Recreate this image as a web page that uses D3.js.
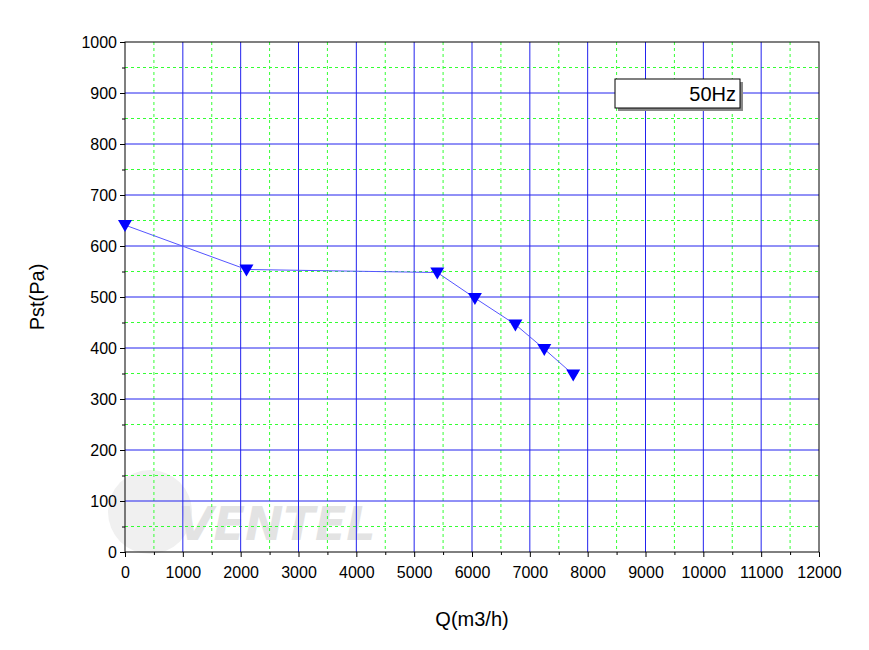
<!DOCTYPE html>
<html><head><meta charset="utf-8">
<script src="https://cdn.jsdelivr.net/npm/d3@7"></script>
<style>body{margin:0;background:#fff}</style></head>
<body><svg id="c" width="869" height="650"></svg>
<script>
const qValues=[0,2100,5400,6050,6750,7250,7750];
const pValues=[641,554,548,498,446,398,348];
const xTicks=d3.range(0,12001,1000);
const yTicks=d3.range(0,1001,100);
const legendLabel="50Hz";
const svg=d3.select("#c");
const L=125,R=819,T=42,B=552;
const x=d3.scaleLinear().domain([0,12000]).range([L,R]);
const y=d3.scaleLinear().domain([0,1000]).range([B,T]);
svg.append("circle").attr("cx",150).attr("cy",512).attr("r",42).attr("fill","#f0f0f0");
svg.append("text").attr("x",178).attr("y",540).attr("font-family","DejaVu Sans").attr("font-weight","bold").attr("font-style","italic").attr("font-size",46).attr("fill","#e3e3e3").text("VENTEL");
const g=svg.append("g");
const minorX=d3.range(500,12000,1000), minorY=d3.range(50,1000,100);
g.selectAll(".mx").data(minorX).join("line").attr("x1",d=>x(d)).attr("x2",d=>x(d)).attr("y1",T).attr("y2",B).attr("stroke","#33ff33").attr("stroke-dasharray","3,3");
g.selectAll(".my").data(minorY).join("line").attr("y1",d=>y(d)).attr("y2",d=>y(d)).attr("x1",L).attr("x2",R).attr("stroke","#33ff33").attr("stroke-dasharray","3,3");
g.selectAll(".Mx").data(xTicks.slice(1,-1)).join("line").attr("x1",d=>x(d)).attr("x2",d=>x(d)).attr("y1",T).attr("y2",B).attr("stroke","#2222ee");
g.selectAll(".My").data(yTicks.slice(1,-1)).join("line").attr("y1",d=>y(d)).attr("y2",d=>y(d)).attr("x1",L).attr("x2",R).attr("stroke","#2222ee");
svg.append("rect").attr("x",L).attr("y",T).attr("width",R-L).attr("height",B-T).attr("fill","none").attr("stroke","#000");
const ax=svg.append("g").attr("transform",`translate(0,${B})`).call(d3.axisBottom(x).tickValues(xTicks).tickSize(5).tickFormat(d3.format("d")));
ax.selectAll(".domain").remove();
const axm=svg.append("g").attr("transform",`translate(0,${B})`).call(d3.axisBottom(x).tickValues(minorX).tickSize(3).tickFormat(""));axm.select(".domain").remove();
const ay=svg.append("g").attr("transform",`translate(${L},0)`).call(d3.axisLeft(y).tickValues(yTicks).tickSize(5).tickFormat(d3.format("d")));
ay.selectAll(".domain").remove();
const aym=svg.append("g").attr("transform",`translate(${L},0)`).call(d3.axisLeft(y).tickValues(minorY).tickSize(3).tickFormat(""));aym.select(".domain").remove();
svg.selectAll(".tick text").attr("font-family","Liberation Sans, Arial").attr("font-size",16).attr("fill","#000");
ax.selectAll(".tick text").attr("dy","1.1em");
svg.selectAll(".tick line").attr("stroke","#000");
svg.append("text").attr("x",472).attr("y",626).attr("text-anchor","middle").attr("font-family","Liberation Sans, Arial").attr("font-size",20).text("Q(m3/h)");
svg.append("text").attr("transform","translate(44,297) rotate(-90)").attr("text-anchor","middle").attr("font-family","Liberation Sans, Arial").attr("font-size",20).text("Pst(Pa)");
const pts=qValues.map((q,i)=>[q,pValues[i]]);
svg.append("path").datum(pts).attr("d",d3.line().x(d=>x(d[0])).y(d=>y(d[1]))).attr("fill","none").attr("stroke","#5555ff").attr("stroke-width",1);
svg.selectAll(".m").data(pts).join("path").attr("transform",d=>`translate(${x(d[0])},${y(d[1])})`).attr("d","M-7,-5L7,-5L0,7Z").attr("fill","#0000ff");
svg.append("rect").attr("x",618).attr("y",82).attr("width",125).attr("height",29).attr("fill","#888");
svg.append("rect").attr("x",615).attr("y",79).attr("width",125).attr("height",29).attr("fill","#fff").attr("stroke","#000");
svg.append("text").attr("x",736).attr("y",101).attr("text-anchor","end").attr("font-family","Liberation Sans, Arial").attr("font-size",20).text(legendLabel);
</script></body></html>
